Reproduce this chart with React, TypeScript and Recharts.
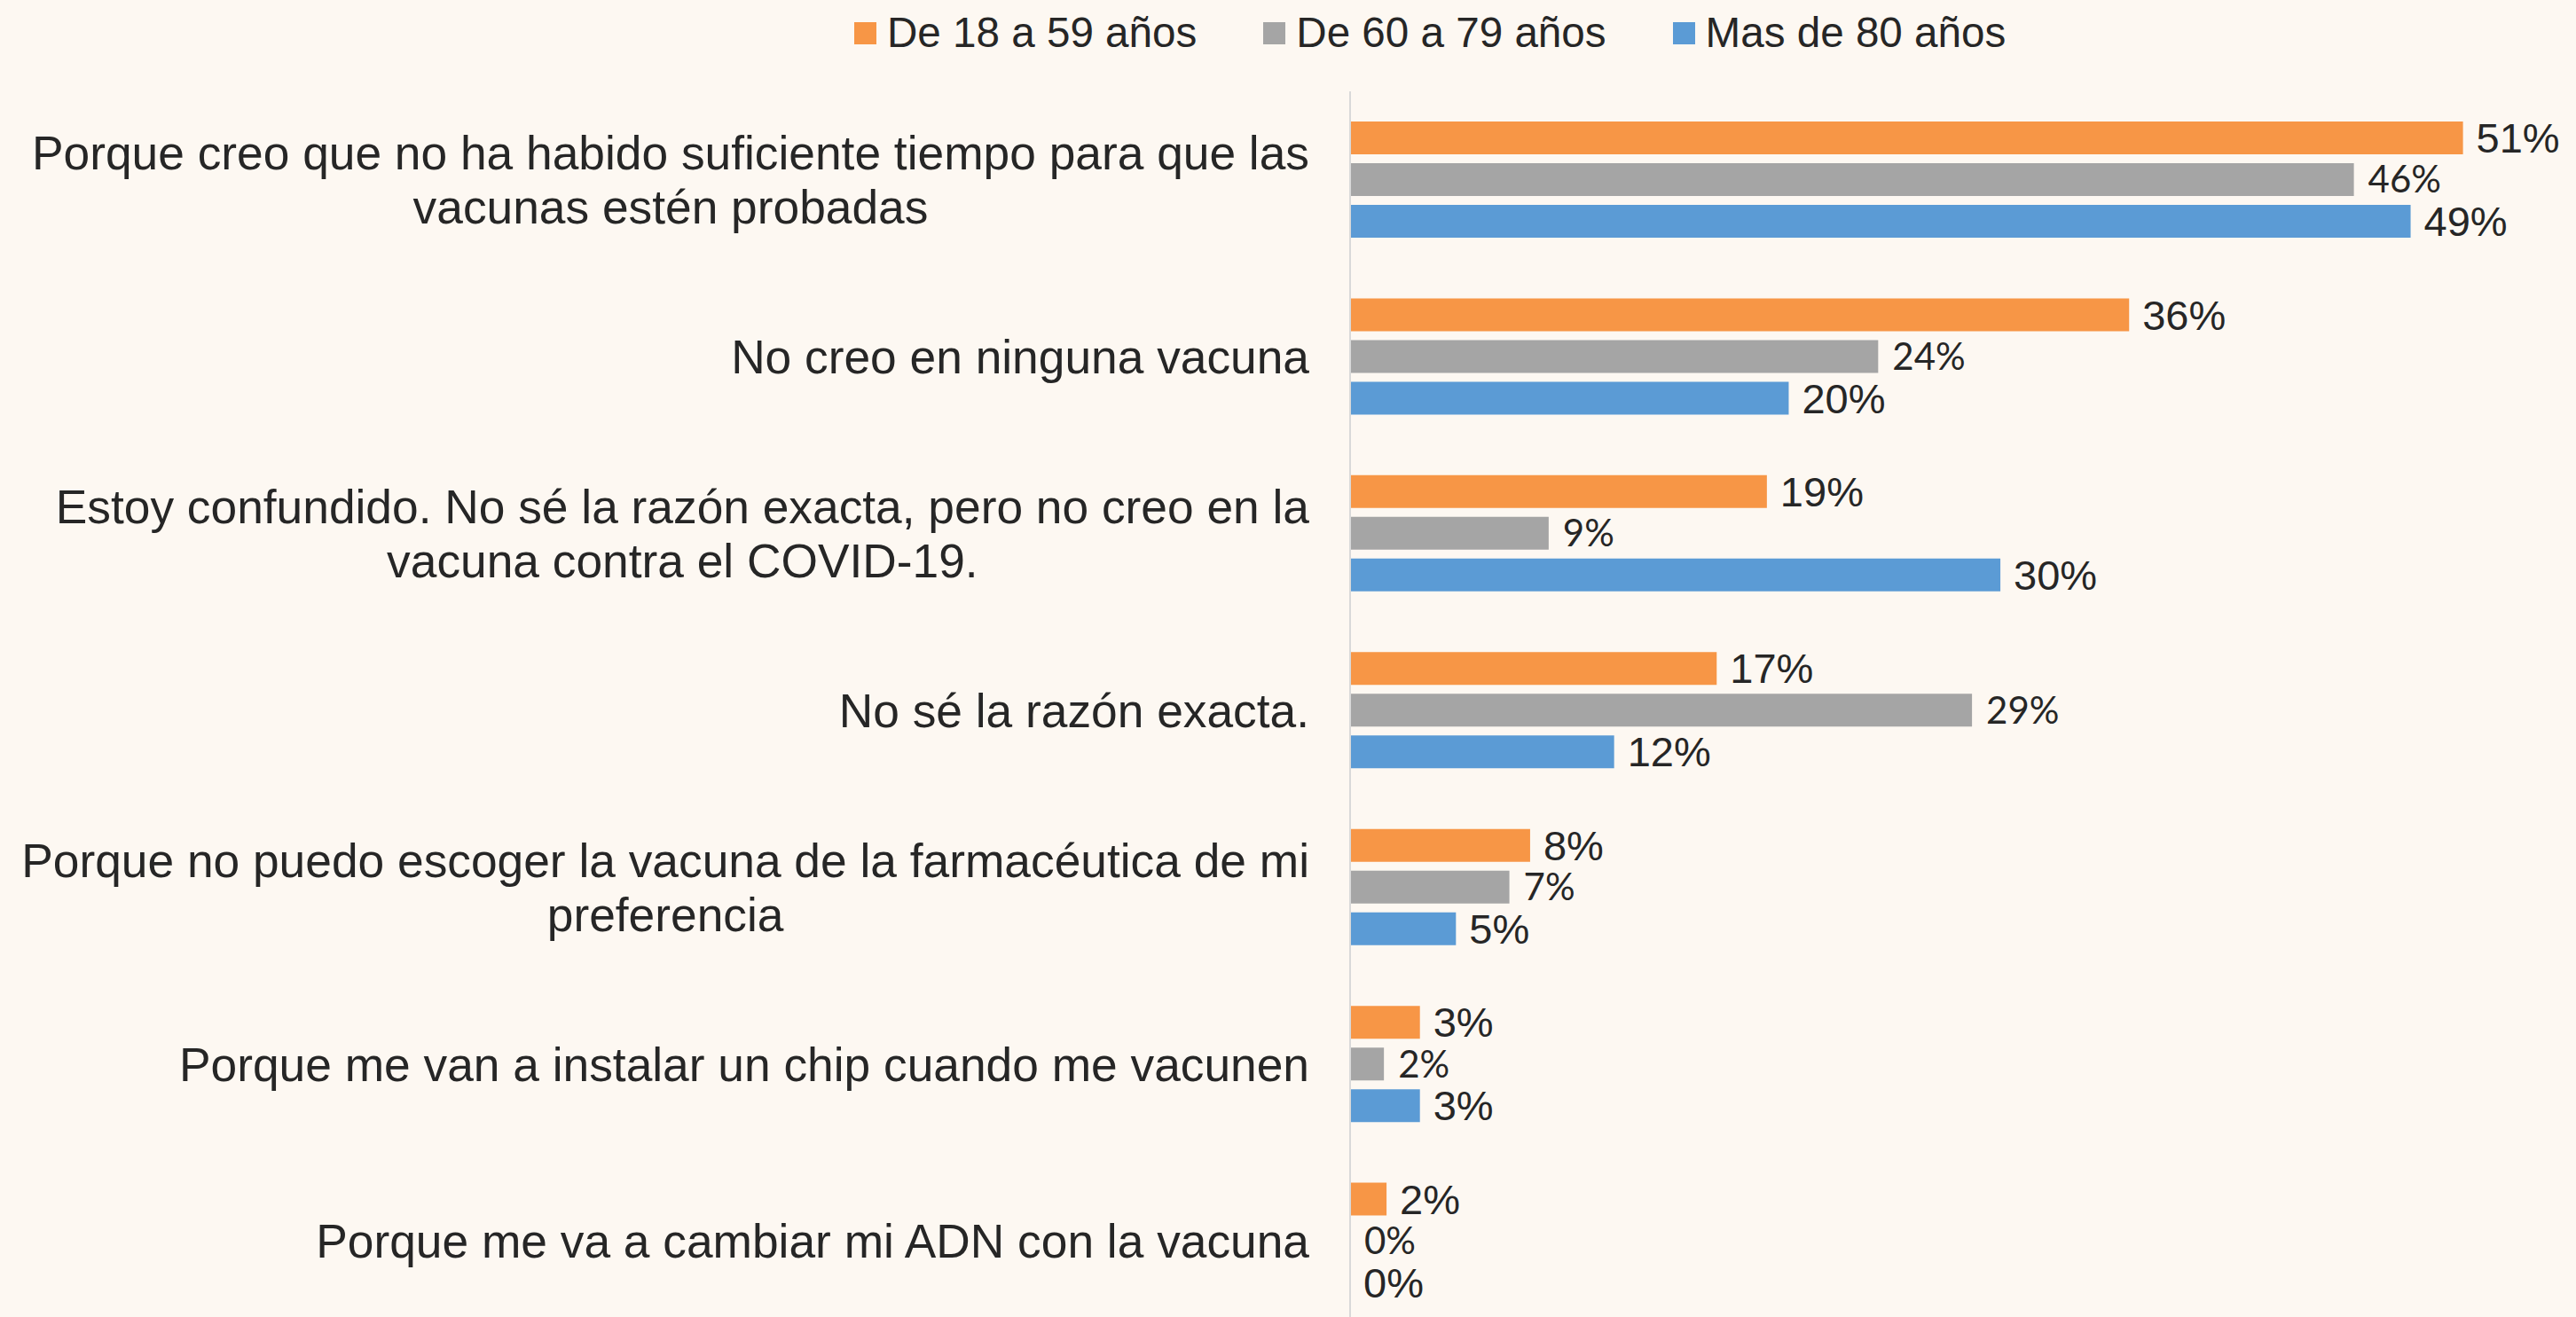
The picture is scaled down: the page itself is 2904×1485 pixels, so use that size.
import React from 'react';
import { BarChart, Bar, XAxis, YAxis, Legend, LabelList } from 'recharts';

const categories = [
  'Porque creo que no ha habido suficiente tiempo para que las\nvacunas estén probadas',
  'No creo en ninguna vacuna',
  'Estoy confundido. No sé la razón exacta, pero no creo en la\nvacuna contra el COVID-19.',
  'No sé la razón exacta.',
  'Porque no puedo escoger la vacuna de la farmacéutica de mi\npreferencia',
  'Porque me van a instalar un chip cuando me vacunen',
  'Porque me va a cambiar mi ADN con la vacuna',
];

// labels show the rounded value
const age18to59 = [51, 35.7, 19.1, 16.8, 8.25, 3.2, 1.67];
const age60to79 = [46, 24.2, 9.1, 28.5, 7.3, 1.55, 0];
const age80plus = [48.6, 20.1, 29.8, 12.1, 4.85, 3.2, 0];

const seriesNames = ['De 18 a 59 años', 'De 60 a 79 años', 'Mas de 80 años'];
const seriesKeys = ['a', 'b', 'c'];
const colors = ['#F79646', '#A5A5A5', '#5B9BD5'];

const data = categories.map((name, i) => ({
  name,
  a: age18to59[i],
  b: age60to79[i],
  c: age80plus[i],
}));

const FONT = '"Liberation Sans", Arial, sans-serif';
const TEXT = '#262626';
const CAT_SIZE = 53.3;
const LINE_GAP = 61;

let ctx: CanvasRenderingContext2D | null = null;
const measure = (s: string, font: string) => {
  if (!ctx) ctx = document.createElement('canvas').getContext('2d');
  if (!ctx) return s.length * CAT_SIZE * 0.5;
  ctx.font = font;
  return ctx.measureText(s).width;
};

const CategoryTick = ({ x, y, payload }: any) => {
  const lines = String(payload.value).split('\n');
  const right = x - 46;
  const w0 = measure(lines[0], `${CAT_SIZE}px "Liberation Sans"`);
  const top = -((lines.length - 1) * LINE_GAP) / 2;
  return (
    <g>
      {lines.map((l, i) => (
        <text
          key={i}
          x={i === 0 ? right : right - w0 / 2}
          y={y + top + i * LINE_GAP}
          dy="0.36em"
          textAnchor={i === 0 ? 'end' : 'middle'}
          fontSize={CAT_SIZE}
          fontFamily={FONT}
          fill={TEXT}
        >
          {l}
        </text>
      ))}
    </g>
  );
};

const LegendRow = () => (
  <div style={{ height: 103, position: 'relative', fontFamily: FONT }}>
    <div style={{ position: 'absolute', top: 13, left: 963, display: 'flex', alignItems: 'center', height: 48 }}>
      {seriesNames.map((n, i) => (
        <div key={n} style={{ display: 'flex', alignItems: 'center', marginRight: i < 2 ? 75 : 0 }}>
          <div style={{ width: 25, height: 25, background: colors[i], marginRight: 12 }} />
          <div style={{ fontSize: 47.6, color: TEXT, lineHeight: '48px', whiteSpace: 'nowrap' }}>{n}</div>
        </div>
      ))}
    </div>
  </div>
);

const pct = (v: any) => `${Math.round(Number(v))}%`;

export default function App() {
  return (
    <div style={{ position: 'absolute', left: 0, top: 0, width: 2904, height: 1485, overflow: 'hidden', background: '#FDF8F2' }}>
      <BarChart
        width={2904}
        height={1510}
        data={data}
        layout="vertical"
        margin={{ top: 0, right: 29, bottom: 11, left: 0 }}
        barCategoryGap={34}
        barGap={10}
      >
        <XAxis type="number" domain={[0, 55]} hide />
        <YAxis
          type="category"
          dataKey="name"
          width={1522}
          tickLine={false}
          tickSize={0}
          tickMargin={0}
          axisLine={{ stroke: '#D9D9D9', strokeWidth: 2 }}
          tick={<CategoryTick />}
          interval={0}
        />
        <Legend verticalAlign="top" wrapperStyle={{ top: 0, left: 0, width: 2904 }} content={() => <LegendRow />} />
        {seriesKeys.map((k, i) => (
          <Bar key={k} dataKey={k} name={seriesNames[i]} fill={colors[i]} minPointSize={0.01} isAnimationActive={false}>
            <LabelList
              dataKey={k}
              position="right"
              offset={i === 1 ? 16 : 15}
              formatter={pct}
              fill={TEXT}
              fontSize={i === 1 ? 42 : 47}
              fontFamily={i === 1 ? 'Lato, sans-serif' : FONT}
            />
          </Bar>
        ))}
      </BarChart>
    </div>
  );
}
